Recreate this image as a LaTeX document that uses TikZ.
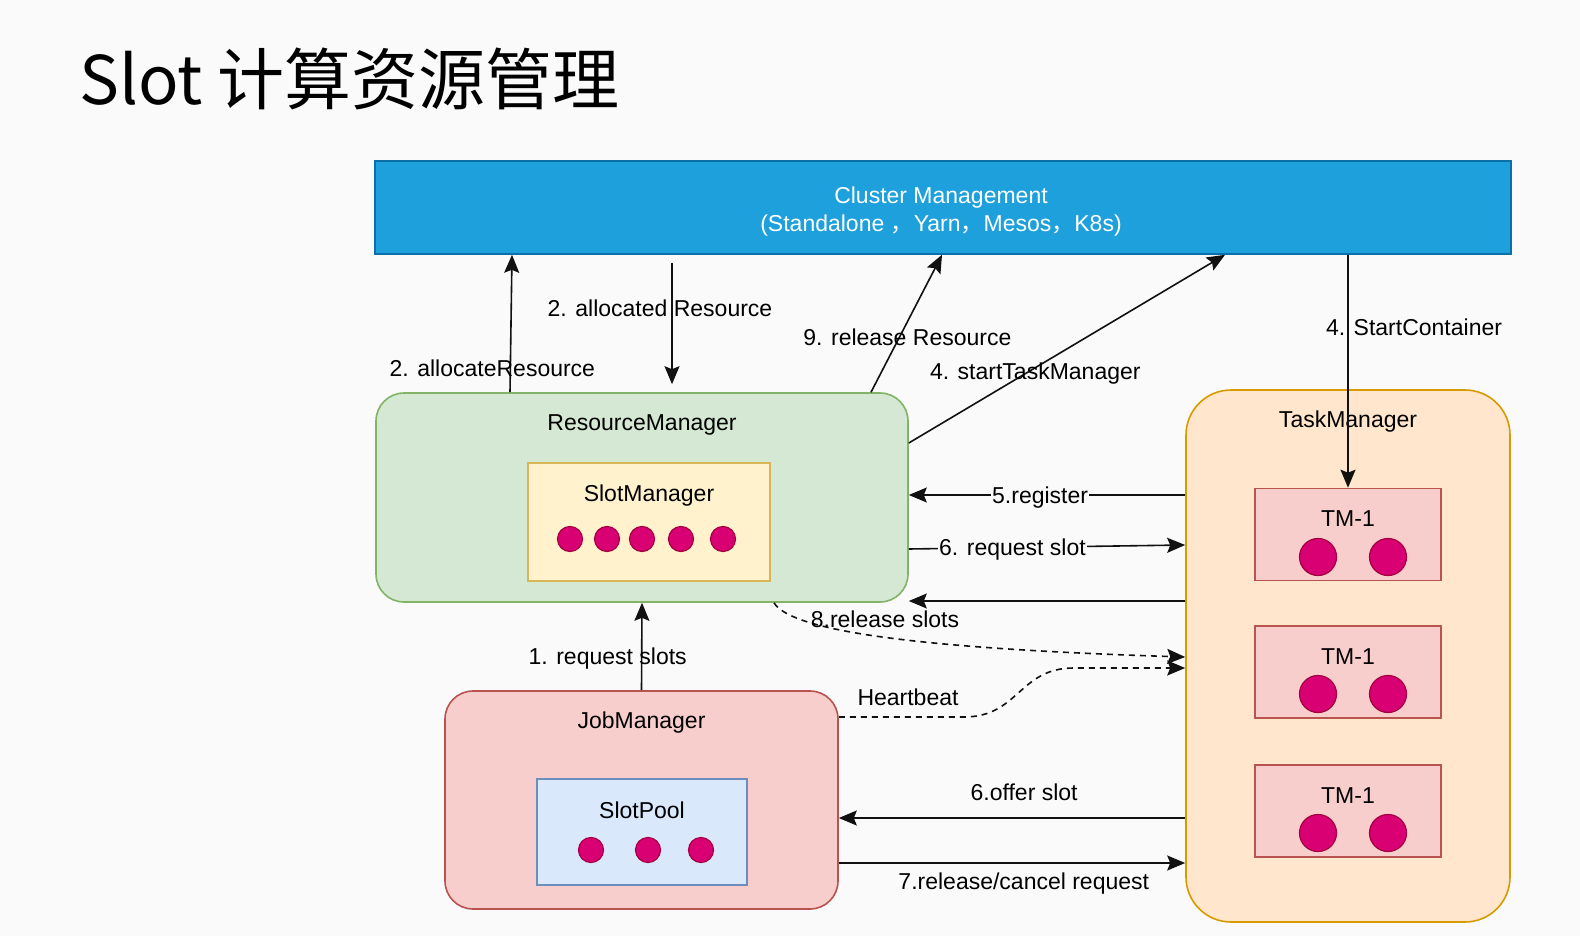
\documentclass[tikz,border=0pt]{standalone}
\usepackage{fontspec}
\setmainfont{Liberation Sans}
\newfontfamily\cjk{Noto Sans CJK SC}
\usetikzlibrary{arrows.meta}
\usepackage{xcolor}
\definecolor{PageBg}{HTML}{FAFAFA}
\definecolor{ClusterFill}{HTML}{1DA0DC}
\definecolor{ClusterLine}{HTML}{0B6FA8}
\definecolor{RmFill}{HTML}{D5E8D4}
\definecolor{RmLine}{HTML}{82B366}
\definecolor{SmFill}{HTML}{FFF2CC}
\definecolor{SmLine}{HTML}{D6B656}
\definecolor{JmFill}{HTML}{F8CECC}
\definecolor{JmLine}{HTML}{B85450}
\definecolor{PoolFill}{HTML}{DAE8FC}
\definecolor{PoolLine}{HTML}{6C8EBF}
\definecolor{TmFill}{HTML}{FFE6CC}
\definecolor{TmLine}{HTML}{D79B00}
\definecolor{SlotFill}{HTML}{D80073}
\definecolor{SlotLine}{HTML}{A50040}
\definecolor{ArrowInk}{HTML}{111111}

\begin{document}
\begin{tikzpicture}[
	x=1pt, y=-1pt, % one unit per pixel of the slide, y running down
	% Style for the big rounded boxes
	manager/.style={
		rectangle,
		rounded corners=28pt,
		line width=1.6pt,
		inner sep=0pt
	},
	% Style for the square boxes inside them
	inner box/.style={
		rectangle,
		line width=1.6pt,
		inner sep=0pt
	},
	% Style for the box captions
	box title/.style={
		text=black,
		font=\fontsize{23}{27}\selectfont,
		inner sep=1pt
	},
	% Style for the slot dots
	slot/.style={
		circle,
		fill=SlotFill,
		draw=SlotLine,
		line width=1.2pt,
		inner sep=0pt,
		minimum size=25pt
	},
	big slot/.style={
		slot,
		minimum size=37pt
	},
	% Style for the arrows
	flow/.style={
		draw=ArrowInk,
		line width=1.6pt,
		-{Stealth[length=18pt,width=15pt,inset=3pt]}
	},
	dashed line/.style={
		dash pattern=on 6pt off 5pt
	},
	% Style for the texts on the arrows
	lbl/.style={
		text=black,
		font=\fontsize{23}{27}\selectfont,
		inner sep=1pt
	}
	]
	
	\fill[PageBg] (0,0) rectangle (1580,936);
	\useasboundingbox (0,0) rectangle (1580,936);
	
	% 1. Title
	\node[anchor=base west, inner sep=0pt, font=\cjk\fontsize{67}{80}\selectfont] (title) at (79,105) {Slot 计算资源管理};
	
	% 2. Boxes
	\node[inner box, fill=ClusterFill, draw=ClusterLine, minimum width=1136pt, minimum height=93pt] (CM) at (943,207.5) {};
	\node[box title, text=white, align=center, font=\fontsize{23}{28}\selectfont] (cmTitle) at (941,212) {Cluster Management\\(Standalone {\cjk ，}Yarn{\cjk ，}Mesos{\cjk ，}K8s)};
	
	\node[manager, fill=RmFill, draw=RmLine, minimum width=532pt, minimum height=209pt] (RM) at (642,497.5) {};
	\node[box title] (rmTitle) at ([yshift=-33pt]RM.north) {ResourceManager};
	\node[inner box, fill=SmFill, draw=SmLine, minimum width=242pt, minimum height=118pt] (SM) at (649,522) {};
	\node[box title] (smTitle) at ([yshift=-33pt]SM.north) {SlotManager};
	\node[slot] (sm1) at (570,539) {};
	\node[slot] (sm2) at (607,539) {};
	\node[slot] (sm3) at (642,539) {};
	\node[slot] (sm4) at (681,539) {};
	\node[slot] (sm5) at (723,539) {};
	
	\node[manager, fill=JmFill, draw=JmLine, minimum width=393pt, minimum height=218pt] (JM) at (641.5,800) {};
	\node[box title] (jmTitle) at ([yshift=-32pt]JM.north) {JobManager};
	\node[inner box, fill=PoolFill, draw=PoolLine, minimum width=210pt, minimum height=106pt] (SP) at (642,832) {};
	\node[box title] (spTitle) at ([yshift=-32pt]SP.north) {SlotPool};
	\node[slot] (sp1) at (591,850) {};
	\node[slot] (sp2) at (648,850) {};
	\node[slot] (sp3) at (701,850) {};
	
	\node[manager, rounded corners=45pt, fill=TmFill, draw=TmLine, minimum width=324pt, minimum height=532pt] (TM) at (1348,656) {};
	\node[box title] (tmTitle) at ([yshift=-32pt]TM.north) {TaskManager};
	
	\node[inner box, fill=JmFill, draw=JmLine, minimum width=186pt, minimum height=92pt] (TM1a) at (1348,534.5) {};
	\node[box title] (tmaTitle) at ([yshift=-31pt]TM1a.north) {TM-1};
	\node[big slot] (ta1) at (1318,557) {};
	\node[big slot] (ta2) at (1388,557) {};
	
	\node[inner box, fill=JmFill, draw=JmLine, minimum width=186pt, minimum height=92pt] (TM1b) at (1348,672) {};
	\node[box title] (tmbTitle) at ([yshift=-31pt]TM1b.north) {TM-1};
	\node[big slot] (tb1) at (1318,694) {};
	\node[big slot] (tb2) at (1388,694) {};
	
	\node[inner box, fill=JmFill, draw=JmLine, minimum width=186pt, minimum height=92pt] (TM1c) at (1348,811) {};
	\node[box title] (tmcTitle) at ([yshift=-31pt]TM1c.north) {TM-1};
	\node[big slot] (tc1) at (1318,833) {};
	\node[big slot] (tc2) at (1388,833) {};
	
	% 3. Arrows to and from the cluster
	\draw[flow] ([xshift=-132pt]RM.north) -- node[lbl, pos=0.18, xshift=-18pt, yshift=-1pt] (lAlloc) {2. allocateResource} ([xshift=-431pt]CM.south);
	\draw[flow, shorten <=8pt, shorten >=8pt] ([xshift=-271pt]CM.south) -- node[lbl, pos=0.38, xshift=-12pt, yshift=-1pt] (lAllocated) {2. allocated Resource} ([xshift=30pt]RM.north);
	\draw[flow] ([xshift=229pt]RM.north) -- node[lbl, pos=0.40, xshift=8pt] (lRelRes) {9. release Resource} ([xshift=-1pt]CM.south);
	\draw[flow] ([yshift=54.5pt]RM.east) -- node[lbl, pos=0.40, yshift=-6pt] (lStartTM) {4. startTaskManager} ([xshift=282pt]CM.south);
	\draw[flow] (TM1a.north |- CM.south) -- node[lbl, pos=0.31, xshift=66pt] (lStartC) {4. StartContainer} (TM1a.north);
	
	% 4. Arrows between ResourceManager and TaskManager
	\draw[flow] ([yshift=161pt]TM.west) -- node[lbl, fill=PageBg, pos=0.525, yshift=-3pt] (lReg) {5.register} ([yshift=2.5pt]RM.east);
	\draw[flow] ([yshift=-51.5pt]RM.east) -- node[lbl, fill=PageBg, pos=0.375, yshift=-2pt] (lReqSlot) {6. request slot} ([yshift=111pt]TM.west);
	\draw[flow] ([yshift=55pt]TM.west) -- ([yshift=-103.5pt]RM.east);
	\draw[flow, dashed line] ([xshift=132pt]RM.south) .. controls +(16,26) and +(-286,-9) .. ([yshift=-1pt]TM.west);
	\node[lbl] (lRelSlots) at (885,619) {8.release slots};
	
	% 5. Arrows between JobManager and the others
	\draw[flow] (JM.north) -- node[lbl, pos=0.38, xshift=-34pt, yshift=-2pt] (lReqSlots) {1. request slots} (RM.south);
	\draw[flow, dashed line] ([yshift=83pt]JM.east) -- ++(125,0) .. controls +(55,0) and +(-55,0) .. ++(110,-49) -- ([yshift=-12pt]TM.west);
	\node[lbl] (lHeart) at (908,697) {Heartbeat};
	\draw[flow] ([yshift=-162pt]TM.west) -- node[lbl, pos=0.465, yshift=26pt] (lOffer) {6.offer slot} ([yshift=-18pt]JM.east);
	\draw[flow] ([yshift=-63pt]JM.east) -- node[lbl, pos=0.534, yshift=-21pt] (lCancel) {7.release/cancel request} ([yshift=-207pt]TM.west);
	
\end{tikzpicture}
\end{document}
